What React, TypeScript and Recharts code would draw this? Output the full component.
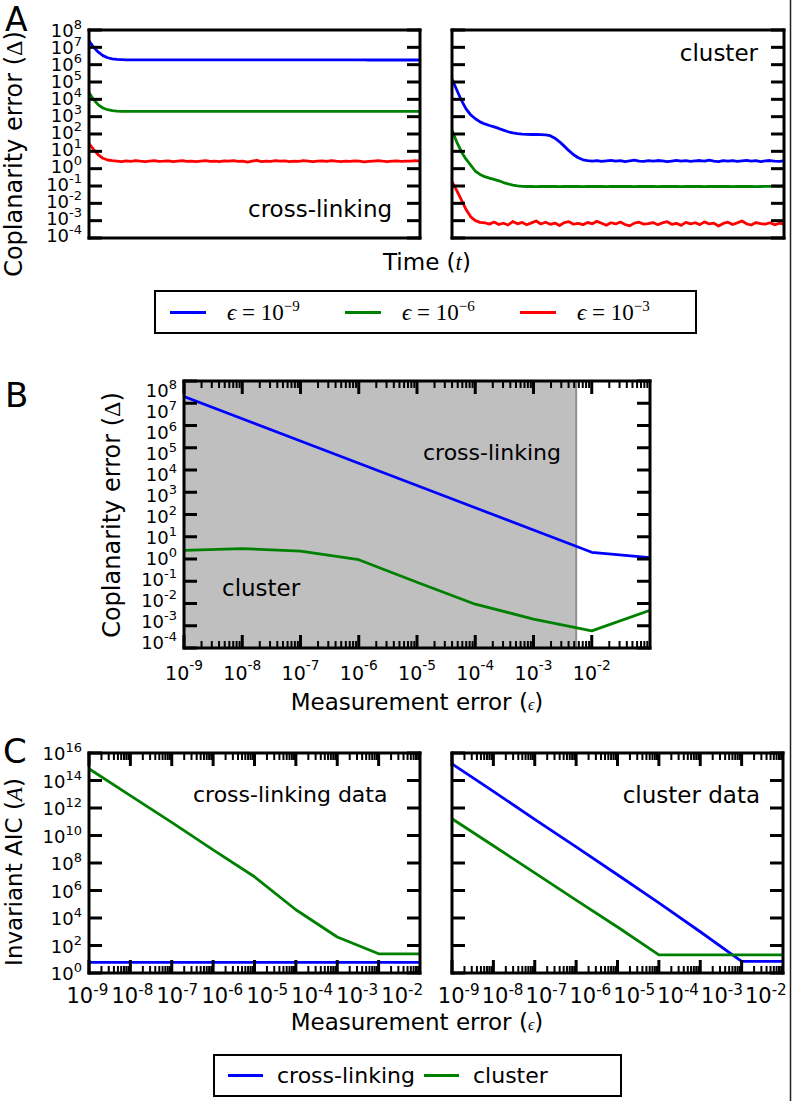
import React from 'react'
import { LineChart, Line, XAxis, YAxis, ReferenceArea, ReferenceLine } from 'recharts'

const FONT = "'DejaVu Sans', sans-serif"
const SERIF = "'Liberation Serif', 'DejaVu Serif', serif"
const BLUE = '#0000ff'
const GREEN = '#008000'
const RED = '#ff0000'
const SERIES_COLORS = [BLUE, GREEN, RED]

// ---- A: coplanarity error over time, stored as log10(Δ)
const TIME = [
  0, 1, 2, 3, 4, 5, 6, 7, 8, 9, 10, 11, 12, 13, 14, 15, 16, 17, 18, 19, 20, 21, 22, 23,
  24, 25, 26, 27, 28, 29, 30, 31, 32, 33, 34, 35, 36, 37, 38, 39, 40, 41, 42, 43, 44, 45, 46, 47,
  48, 49, 50, 51, 52, 53, 54, 55, 56, 57, 58, 59, 60, 61, 62, 63, 64, 65, 66, 67, 68, 69, 70, 71,
]

// cross-linking run
const A_XL_EPS9 = [
  7.37, 7.0, 6.72, 6.52, 6.4, 6.33, 6.3, 6.29,
  6.28, 6.28, 6.28, 6.28, 6.28, 6.28, 6.28, 6.28,
  6.28, 6.28, 6.28, 6.28, 6.28, 6.28, 6.28, 6.28,
  6.28, 6.28, 6.28, 6.28, 6.28, 6.28, 6.28, 6.28,
  6.28, 6.28, 6.28, 6.28, 6.28, 6.28, 6.28, 6.28,
  6.28, 6.28, 6.28, 6.28, 6.28, 6.28, 6.28, 6.28,
  6.28, 6.28, 6.28, 6.28, 6.28, 6.28, 6.28, 6.28,
  6.28, 6.28, 6.28, 6.28, 6.27, 6.27, 6.27, 6.27,
  6.27, 6.27, 6.27, 6.27, 6.27, 6.27, 6.27, 6.27,
]
const A_XL_EPS6 = [
  4.4, 3.98, 3.68, 3.5, 3.4, 3.35, 3.32, 3.31,
  3.3, 3.3, 3.3, 3.3, 3.3, 3.3, 3.3, 3.3,
  3.3, 3.3, 3.3, 3.3, 3.3, 3.3, 3.3, 3.3,
  3.3, 3.3, 3.3, 3.3, 3.3, 3.3, 3.3, 3.3,
  3.3, 3.3, 3.3, 3.3, 3.3, 3.3, 3.3, 3.3,
  3.3, 3.3, 3.3, 3.3, 3.3, 3.3, 3.3, 3.3,
  3.3, 3.3, 3.3, 3.3, 3.3, 3.3, 3.3, 3.3,
  3.3, 3.3, 3.3, 3.3, 3.3, 3.3, 3.3, 3.3,
  3.3, 3.3, 3.3, 3.3, 3.3, 3.3, 3.3, 3.3,
]
const A_XL_EPS3 = [
  1.45, 1.1, 0.8, 0.6, 0.5, 0.46,
  0.44, 0.41, 0.45, 0.42, 0.47, 0.43, 0.4, 0.44, 0.46, 0.42,
  0.43, 0.45, 0.41, 0.44, 0.47, 0.42, 0.44, 0.4, 0.43, 0.46,
  0.42, 0.44, 0.41, 0.45, 0.43, 0.47, 0.42, 0.44, 0.38, 0.43,
  0.48, 0.41, 0.44, 0.42, 0.46, 0.43, 0.45, 0.41, 0.44, 0.42,
  0.46, 0.43, 0.4, 0.44, 0.45, 0.42, 0.47, 0.43, 0.41, 0.44,
  0.42, 0.45, 0.43, 0.39, 0.42, 0.44, 0.46, 0.43, 0.41, 0.44,
  0.45, 0.42, 0.44, 0.43, 0.46, 0.44,
]

// cluster run
const A_CL_EPS9 = [
  5.17, 4.55, 3.95, 3.45, 3.1, 2.88, 2.7, 2.58, 2.49, 2.41,
  2.32, 2.22, 2.13, 2.06, 2.02, 1.99, 1.98, 1.97, 1.97, 1.96,
  1.95, 1.9, 1.76, 1.55, 1.3, 1.04, 0.8, 0.63, 0.51, 0.46,
  0.44, 0.47, 0.42, 0.45, 0.48, 0.43, 0.46, 0.41, 0.45, 0.49,
  0.44, 0.42, 0.46, 0.43, 0.47, 0.45, 0.4, 0.44, 0.48, 0.43,
  0.46, 0.42, 0.45, 0.47, 0.43, 0.49, 0.44, 0.41, 0.46, 0.44,
  0.47, 0.42, 0.45, 0.48, 0.43, 0.46, 0.41, 0.45, 0.47, 0.44,
  0.42, 0.45,
]
const A_CL_EPS6 = [
  2.21, 1.55, 0.98, 0.55, 0.2, -0.15, -0.33, -0.46, -0.55, -0.62,
  -0.7, -0.8, -0.88, -0.95, -0.99, -1.02, -1.03,
  -1.03, -1.04, -1.03, -1.02, -1.03, -1.03, -1.04, -1.03, -1.02, -1.03,
  -1.03, -1.04, -1.03, -1.03, -1.02, -1.03, -1.04, -1.03, -1.03, -1.02,
  -1.03, -1.03, -1.04, -1.03, -1.02, -1.03, -1.03, -1.04, -1.03, -1.03,
  -1.02, -1.03, -1.04, -1.03, -1.03, -1.02, -1.03, -1.04, -1.03, -1.03,
  -1.02, -1.03, -1.03, -1.04, -1.03, -1.02, -1.03, -1.03, -1.04, -1.03,
  -1.02, -1.02, -1.01, -1.02, -1.01,
]
const A_CL_EPS3 = [
  -0.75, -1.25, -1.8, -2.35, -2.78, -3.0, -3.1,
  -3.12, -3.2, -3.08, -3.22, -3.15, -3.25, -3.05, -3.18, -3.1, -3.24,
  -3.13, -3.02, -3.19, -3.09, -3.21, -3.14, -3.28, -3.11, -3.06, -3.2,
  -3.16, -3.23, -3.1, -3.18, -3.04, -3.15, -3.26, -3.12, -3.19, -3.08,
  -3.22, -3.3, -3.14, -3.09, -3.2, -3.17, -3.11, -3.24, -3.13, -3.06,
  -3.21, -3.15, -3.27, -3.1, -3.18, -3.12, -3.23, -3.07, -3.19, -3.14,
  -3.31, -3.16, -3.09, -3.22, -3.13, -3.02, -3.18, -3.25, -3.11, -3.17,
  -3.2, -3.12, -3.24, -3.15, -3.18,
]
const A_EPS_LEVELS = [-9, -6, -3]

// ---- B: coplanarity error at the end vs measurement error
const EPS = [1e-9, 1e-8, 1e-7, 1e-6, 1e-5, 1e-4, 1e-3, 1e-2, 1e-1]
const B_CROSSLINK = [2.0e7, 2.0e6, 2.0e5, 2.0e4, 2.0e3, 200, 20, 2.0, 1.15]
const B_CLUSTER = [2.45, 2.95, 2.25, 0.93, 0.09, 0.0093, 0.002, 5.9e-4, 5e-3]
const B_SHADED_UPTO = 5.4e-3

// ---- C: invariant AIC vs measurement error
const C_XLDATA_CROSSLINK = [5.9, 5.9, 5.9, 5.9, 5.9, 5.9, 5.9, 5.9, 5.9]
const C_XLDATA_CLUSTER = [7.1e14, 7.9e12, 8.9e10, 8.9e8, 1.0e7, 4.0e4, 417, 25, 25]
const C_CLDATA_CROSSLINK = [1.6e15, 1.6e13, 1.5e11, 1.5e9, 1.4e7, 1.26e5, 1000, 6.9, 6.9]
const C_CLDATA_CLUSTER = [1.66e11, 1.8e9, 1.9e7, 2.0e5, 2.2e3, 21, 21, 21, 21]
const C_MODELS = ['cross-linking', 'cluster']

// ---- ticks
const A_Y_TICKS = [1e-4, 1e-3, 1e-2, 1e-1, 1, 10, 100, 1e3, 1e4, 1e5, 1e6, 1e7, 1e8]
const C_Y_TICKS = [1, 1e2, 1e4, 1e6, 1e8, 1e10, 1e12, 1e14, 1e16]
const EPS_DECADES = [1e-9, 1e-8, 1e-7, 1e-6, 1e-5, 1e-4, 1e-3, 1e-2]
const MINOR_STEPS = [2, 3, 4, 5, 6, 7, 8, 9]
const EPS_MINOR_TICKS = EPS_DECADES.flatMap((d) => MINOR_STEPS.map((k) => k * d))

const aRows = (e9: number[], e6: number[], e3: number[]) =>
  TIME.map((t, i) => ({ t, e9: 10 ** e9[i], e6: 10 ** e6[i], e3: 10 ** e3[i] }))
const A_XL_ROWS = aRows(A_XL_EPS9, A_XL_EPS6, A_XL_EPS3)
const A_CL_ROWS = aRows(A_CL_EPS9, A_CL_EPS6, A_CL_EPS3)
const B_ROWS = EPS.map((eps, i) => ({ eps, xl: B_CROSSLINK[i], cl: B_CLUSTER[i] }))
const C_XL_ROWS = EPS.map((eps, i) => ({ eps, xl: C_XLDATA_CROSSLINK[i], cl: C_XLDATA_CLUSTER[i] }))
const C_CL_ROWS = EPS.map((eps, i) => ({ eps, xl: C_CLDATA_CROSSLINK[i], cl: C_CLDATA_CLUSTER[i] }))

const decade = (v: number) => Math.round(Math.log10(v))

const MAJOR = 13
const MINOR = 7
const LABEL_GAP = 7
const FRAME_LINE = { stroke: '#000', strokeWidth: 3, strokeLinecap: 'square' as const }
const TICK_LINE = { stroke: '#000', strokeWidth: 3 }
const blank = () => <g />

type Shift = (exp: number) => number
const noShift: Shift = () => 0

// y labels: 10 with a raised exponent, right-aligned at the tick's label anchor
const yLabelTick = (labelled: boolean, shift: Shift) => (p: any) => {
  if (!labelled) return <g />
  const e = decade(p.payload.value)
  return (
    <text x={p.x} y={p.y + 7 + shift(e)} textAnchor="end" fontFamily={FONT} fontSize={18} fill="#000">
      10
      <tspan dy={-8} fontSize={13}>
        {e}
      </tspan>
    </text>
  )
}

// eps labels below the frame
const xLabelTick = (size: number, base: number, raise: number, shift: Shift) => (p: any) => {
  const e = decade(p.payload.value)
  return (
    <text x={p.x + shift(e)} y={p.y + base} textAnchor="middle" fontFamily={FONT} fontSize={size} fill="#000">
      10
      <tspan dy={-raise} fontSize={size * 0.72}>
        {e}
      </tspan>
    </text>
  )
}

type Box = { left: number; top: number; width: number; height: number }
type Gutter = { left: number; right: number; top: number; bottom: number }

interface PlotProps {
  box: Box
  gutter: Gutter
  data: any[]
  xKey: string
  xScale: 'linear' | 'log'
  xDomain: [number, number]
  xTicks?: number[]
  xMinorTicks?: number[]
  xTick?: (p: any) => React.ReactElement
  yDomain: [number, number]
  yTicks: number[]
  yLabels: boolean
  yShift?: Shift
  children: React.ReactNode
}

function Plot(props: PlotProps) {
  const { box, gutter, data, xKey, xScale, xDomain, xTicks, xMinorTicks, xTick, yDomain, yTicks, yLabels, yShift, children } = props
  const width = gutter.left + box.width + gutter.right
  const height = gutter.top + box.height + gutter.bottom
  const xCommon = { dataKey: xKey, type: 'number' as const, scale: xScale, domain: xDomain, allowDataOverflow: true, interval: 0 as const }
  const yCommon = { type: 'number' as const, scale: 'log' as const, domain: yDomain, allowDataOverflow: true, interval: 0 as const, ticks: yTicks }

  // inward tick marks on the eps axis, bottom and top edges of the frame
  const [yLo, yHi] = yDomain
  const pxPerDecade = box.height / (Math.log10(yHi) - Math.log10(yLo))
  const reach = (len: number) => 10 ** (len / pxPerDecade)
  const marks = [
    ...(xTicks ?? []).map((v) => ({ v, len: MAJOR, w: 3 })),
    ...(xMinorTicks ?? []).map((v) => ({ v, len: MINOR, w: 2 })),
  ]

  return (
    <div style={{ position: 'absolute', left: box.left - gutter.left, top: box.top - gutter.top, width, height }}>
      <LineChart width={width} height={height} data={data} margin={{ top: 0, right: 0, bottom: 0, left: 0 }}>
        <XAxis
          {...xCommon}
          xAxisId="b"
          orientation="bottom"
          height={gutter.bottom}
          ticks={xTicks}
          tickSize={0}
          tickMargin={0}
          tickLine={false}
          axisLine={FRAME_LINE}
          tick={xTicks && xTick ? xTick : false}
        />
        <XAxis
          {...xCommon}
          xAxisId="t"
          orientation="top"
          height={gutter.top}
          tickSize={0}
          tickLine={false}
          axisLine={FRAME_LINE}
          tick={false}
        />
        <YAxis
          {...yCommon}
          yAxisId="l"
          orientation="left"
          width={gutter.left}
          tickSize={-MAJOR}
          tickMargin={MAJOR + LABEL_GAP}
          tickLine={TICK_LINE}
          axisLine={FRAME_LINE}
          tick={yLabelTick(yLabels, yShift ?? noShift)}
        />
        <YAxis
          {...yCommon}
          yAxisId="r"
          orientation="right"
          width={gutter.right}
          tickSize={-MAJOR}
          tickMargin={0}
          tickLine={TICK_LINE}
          axisLine={FRAME_LINE}
          tick={blank}
        />
        {children}
        {marks.map(({ v, len, w }) => (
          <ReferenceLine key={`b${v}`} xAxisId="b" yAxisId="l" ifOverflow="visible" stroke="#000" strokeWidth={w}
            segment={[{ x: v, y: yLo }, { x: v, y: yLo * reach(len) }]} />
        ))}
        {marks.map(({ v, len, w }) => (
          <ReferenceLine key={`t${v}`} xAxisId="b" yAxisId="l" ifOverflow="visible" stroke="#000" strokeWidth={w}
            segment={[{ x: v, y: yHi }, { x: v, y: yHi / reach(len) }]} />
        ))}
      </LineChart>
    </div>
  )
}

const series = (key: string, color: string) => (
  <Line
    key={key}
    xAxisId="b"
    yAxisId="l"
    type="linear"
    dataKey={key}
    stroke={color}
    strokeWidth={2.8}
    strokeLinejoin="round"
    dot={false}
    activeDot={false}
    isAnimationActive={false}
  />
)

const eps = (e: number) => (
  <>
    <span style={{ fontStyle: 'italic' }}>ϵ</span> = 10
    <sup style={{ fontSize: 15, verticalAlign: 9, lineHeight: 0 }}>−{Math.abs(e)}</sup>
  </>
)

export default function App() {
  const aGutter = { left: 80, right: 12, top: 12, bottom: 12 }
  const aGutterR = { left: 30, right: 12, top: 12, bottom: 12 }
  const bGutter = { left: 80, right: 12, top: 12, bottom: 50 }
  const cGutter = { left: 85, right: 12, top: 12, bottom: 50 }
  const cGutterR = { left: 30, right: 12, top: 12, bottom: 50 }
  const epsLabelB = xLabelTick(19, 32, 10, noShift)
  const epsLabelCL = xLabelTick(21, 30, 8, (e) => -1.6 + 3.6 * (e + 9))
  const epsLabelCR = xLabelTick(21, 30, 8, (e) => 6.7 + 2.5 * (e + 9))
  const aShift: Shift = (e) => 0.25 * (e - 9)
  const bShift: Shift = (e) => -5.85 + 1.22 * (e + 4)

  return (
    <div style={{ position: 'absolute', left: 0, top: 0, width: 796, height: 1101, background: '#fff', overflow: 'hidden' }}>
      {/* A */}
      <Plot box={{ left: 89, top: 30, width: 331, height: 208 }} gutter={aGutter} data={A_XL_ROWS} xKey="t"
        xScale="linear" xDomain={[0, 71]} yDomain={[1e-4, 1e8]} yTicks={A_Y_TICKS} yLabels yShift={aShift}>
        {series('e9', BLUE)}
        {series('e6', GREEN)}
        {series('e3', RED)}
      </Plot>
      <Plot box={{ left: 452, top: 30, width: 332, height: 208 }} gutter={aGutterR} data={A_CL_ROWS} xKey="t"
        xScale="linear" xDomain={[0, 71]} yDomain={[1e-4, 1e8]} yTicks={A_Y_TICKS} yLabels={false}>
        {series('e9', BLUE)}
        {series('e6', GREEN)}
        {series('e3', RED)}
      </Plot>

      <div style={{ position: 'absolute', left: 154, top: 290, width: 543, height: 44, border: '2.5px solid #000',
        boxSizing: 'border-box', display: 'flex', alignItems: 'center', paddingLeft: 14, lineHeight: 1 }}>
        {A_EPS_LEVELS.map((e, i) => (
          <div key={e} style={{ width: 190, display: 'flex', alignItems: 'center' }}>
            <span style={{ display: 'inline-block', width: 36, height: 3, background: SERIES_COLORS[i], marginRight: 21 }} />
            <span style={{ fontFamily: SERIF, fontSize: 23 }}>{eps(e)}</span>
          </div>
        ))}
      </div>

      {/* B */}
      <Plot box={{ left: 184, top: 381, width: 466, height: 267 }} gutter={bGutter} data={B_ROWS} xKey="eps"
        xScale="log" xDomain={[1e-9, 1e-1]} xTicks={EPS_DECADES} xMinorTicks={EPS_MINOR_TICKS} xTick={epsLabelB}
        yDomain={[1e-4, 1e8]} yTicks={A_Y_TICKS} yLabels yShift={bShift}>
        <ReferenceArea xAxisId="b" yAxisId="l" x1={1e-9} x2={B_SHADED_UPTO} fill="#bfbfbf" fillOpacity={1} stroke="none" />
        <ReferenceLine xAxisId="b" yAxisId="l" x={B_SHADED_UPTO} stroke="#8f8f8f" strokeWidth={2} />
        {series('xl', BLUE)}
        {series('cl', GREEN)}
      </Plot>

      {/* C */}
      <Plot box={{ left: 89, top: 753, width: 331, height: 220 }} gutter={cGutter} data={C_XL_ROWS} xKey="eps"
        xScale="log" xDomain={[1e-9, 1e-1]} xTicks={EPS_DECADES} xMinorTicks={EPS_MINOR_TICKS} xTick={epsLabelCL}
        yDomain={[1, 1e16]} yTicks={C_Y_TICKS} yLabels>
        {series('xl', BLUE)}
        {series('cl', GREEN)}
      </Plot>
      <Plot box={{ left: 452, top: 753, width: 331, height: 220 }} gutter={cGutterR} data={C_CL_ROWS} xKey="eps"
        xScale="log" xDomain={[1e-9, 1e-1]} xTicks={EPS_DECADES} xMinorTicks={EPS_MINOR_TICKS} xTick={epsLabelCR}
        yDomain={[1, 1e16]} yTicks={C_Y_TICKS} yLabels={false}>
        {series('xl', BLUE)}
        {series('cl', GREEN)}
      </Plot>

      <div style={{ position: 'absolute', left: 213, top: 1054, width: 409, height: 43, border: '2.5px solid #000',
        boxSizing: 'border-box', display: 'flex', alignItems: 'center', paddingLeft: 13, lineHeight: 1 }}>
        {C_MODELS.map((m, i) => (
          <div key={m} style={{ width: 245, display: 'flex', alignItems: 'center' }}>
            <span style={{ display: 'inline-block', width: 35, height: 3, background: SERIES_COLORS[i], marginRight: 14 }} />
            <span style={{ fontFamily: FONT, fontSize: 22 }}>{m}</span>
          </div>
        ))}
      </div>

      {/* titles, panel letters and notes */}
      <svg width={796} height={1101} style={{ position: 'absolute', left: 0, top: 0, pointerEvents: 'none' }}>
        <g fontFamily={FONT} fill="#000">
          <text x={5} y={31} fontSize={33}>A</text>
          <text x={5} y={407} fontSize={34}>B</text>
          <text x={3} y={763} fontSize={34}>C</text>

          <text transform="translate(22,154) rotate(-90)" textAnchor="middle" fontSize={24}>
            Coplanarity error (<tspan fontFamily={SERIF}>Δ</tspan>)
          </text>
          <text transform="translate(120,515) rotate(-90)" textAnchor="middle" fontSize={24}>
            Coplanarity error (<tspan fontFamily={SERIF}>Δ</tspan>)
          </text>
          <text transform="translate(22,872) rotate(-90)" textAnchor="middle" fontSize={23}>
            Invariant AIC (<tspan fontFamily={SERIF} fontStyle="italic">A</tspan>)
          </text>

          <text x={427} y={270} textAnchor="middle" fontSize={23}>
            Time (<tspan fontFamily={SERIF} fontStyle="italic">t</tspan>)
          </text>
          <text x={417} y={710} textAnchor="middle" fontSize={23}>
            Measurement error (<tspan fontFamily={SERIF} fontStyle="italic" fontSize={16}>ϵ</tspan>)
          </text>
          <text x={417} y={1030} textAnchor="middle" fontSize={23}>
            Measurement error (<tspan fontFamily={SERIF} fontStyle="italic" fontSize={16}>ϵ</tspan>)
          </text>

          <text x={248} y={217} fontSize={23}>cross-linking</text>
          <text x={758} y={61} textAnchor="end" fontSize={23}>cluster</text>
          <text x={423} y={460} fontSize={22}>cross-linking</text>
          <text x={222} y={596} fontSize={23}>cluster</text>
          <text x={193} y={802} fontSize={22}>cross-linking data</text>
          <text x={760} y={803} textAnchor="end" fontSize={23}>cluster data</text>
        </g>
        <line x1={790.5} x2={790.5} y1={0} y2={1101} stroke="#222" strokeWidth={1.5} />
      </svg>
    </div>
  )
}
